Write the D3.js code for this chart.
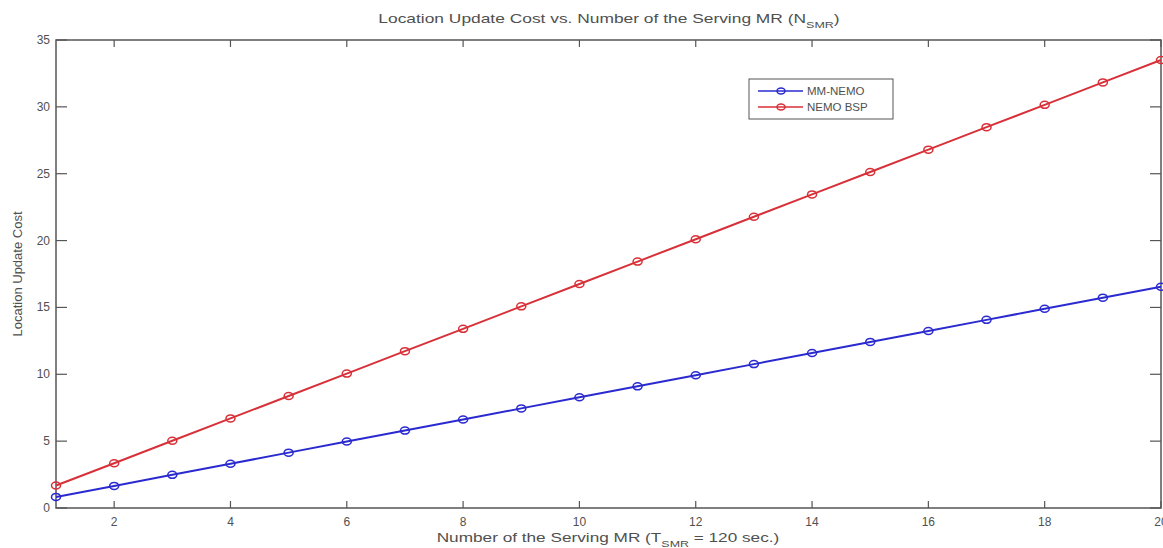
<!DOCTYPE html>
<html><head><meta charset="utf-8">
<script src="https://cdn.jsdelivr.net/npm/d3@7"></script>
<style>
html,body{margin:0;padding:0;background:#fff;}
svg text{font-family:"Liberation Sans",Arial,sans-serif;fill:#505050;}
</style></head>
<body><svg id="c" width="1163" height="548"></svg>
<script>
const xValues = [1,2,3,4,5,6,7,8,9,10,11,12,13,14,15,16,17,18,19,20];
const mmNemo = [0.83,1.65,2.48,3.31,4.14,4.97,5.79,6.62,7.45,8.28,9.1,9.93,10.76,11.59,12.42,13.24,14.07,14.9,15.73,16.55];
const nemoBsp = [1.68,3.35,5.03,6.7,8.38,10.05,11.73,13.4,15.08,16.75,18.43,20.1,21.78,23.45,25.13,26.8,28.48,30.15,31.83,33.5];
const xTicks = [2,4,6,8,10,12,14,16,18,20];
const yTicks = [0,5,10,15,20,25,30,35];
const seriesNames = ["MM-NEMO","NEMO BSP"];
const seriesColors = ["#2a2ad0","#d83038"];

const svg = d3.select("#c");
const L=56, R=1161, T=40, B=508;
const x = d3.scaleLinear().domain([1,20]).range([L,R]);
const y = d3.scaleLinear().domain([0,35]).range([B,T]);
const axisColor = "#555";

svg.append("rect").attr("x",L).attr("y",T).attr("width",R-L).attr("height",B-T)
  .attr("fill","none").attr("stroke",axisColor).attr("stroke-width",1.5);

xTicks.forEach(t=>{
  svg.append("line").attr("x1",x(t)).attr("x2",x(t)).attr("y1",B).attr("y2",B-7).attr("stroke",axisColor).attr("stroke-width",1.2);
  svg.append("line").attr("x1",x(t)).attr("x2",x(t)).attr("y1",T).attr("y2",T+7).attr("stroke",axisColor).attr("stroke-width",1.2);
  svg.append("text").attr("x",x(t)).attr("y",B+18).attr("text-anchor","middle").attr("font-size",12).text(t);
});
yTicks.forEach(t=>{
  svg.append("line").attr("x1",L).attr("x2",L+11).attr("y1",y(t)).attr("y2",y(t)).attr("stroke",axisColor).attr("stroke-width",1.2);
  svg.append("line").attr("x1",R).attr("x2",R-11).attr("y1",y(t)).attr("y2",y(t)).attr("stroke",axisColor).attr("stroke-width",1.2);
  svg.append("text").attr("x",L-6).attr("y",y(t)+4).attr("text-anchor","end").attr("font-size",12).text(t);
});

const line = d3.line().x((d,i)=>x(xValues[i])).y(d=>y(d));
[mmNemo,nemoBsp].forEach((s,k)=>{
  svg.append("path").datum(s).attr("d",line).attr("fill","none").attr("stroke",seriesColors[k]).attr("stroke-width",2);
  svg.selectAll(null).data(s).enter().append("ellipse")
    .attr("cx",(d,i)=>x(xValues[i])).attr("cy",d=>y(d)).attr("rx",4.5).attr("ry",3.5)
    .attr("fill","none").attr("stroke",seriesColors[k]).attr("stroke-width",1.5);
});

const lg = svg.append("g");
lg.append("rect").attr("x",749).attr("y",79).attr("width",144).attr("height",40)
  .attr("fill","#fff").attr("stroke",axisColor).attr("stroke-width",1);
seriesNames.forEach((n,k)=>{
  const yy = 91 + k*16;
  lg.append("line").attr("x1",758).attr("x2",803).attr("y1",yy).attr("y2",yy).attr("stroke",seriesColors[k]).attr("stroke-width",1.5);
  lg.append("ellipse").attr("cx",781).attr("cy",yy).attr("rx",4).attr("ry",3).attr("fill","none").attr("stroke",seriesColors[k]).attr("stroke-width",1.5);
  lg.append("text").attr("x",807).attr("y",yy+4).attr("font-size",11.5).text(n);
});

function fitText(sel, cx, targetW){
  const w = sel.node().getBBox().width;
  const s = targetW / w;
  sel.attr("transform",`translate(${cx},0) scale(${s},1) translate(${-cx},0)`);
}

const title = svg.append("text").attr("x",609).attr("y",23).attr("text-anchor","middle").attr("font-size",12.5);
title.append("tspan").text("Location Update Cost vs. Number of the Serving MR (N");
title.append("tspan").attr("font-size",9).attr("dy",5).text("SMR");
title.append("tspan").attr("dy",-5).text(")");
fitText(title,609,462);

const xl = svg.append("text").attr("x",608).attr("y",542).attr("text-anchor","middle").attr("font-size",12.5);
xl.append("tspan").text("Number of the Serving MR (T");
xl.append("tspan").attr("font-size",9).attr("dy",5).text("SMR");
xl.append("tspan").attr("dy",-5).text(" = 120 sec.)");
fitText(xl,608,343);

svg.append("text").attr("transform","translate(22,274) rotate(-90)").attr("text-anchor","middle").attr("font-size",13).text("Location Update Cost");
</script></body></html>
